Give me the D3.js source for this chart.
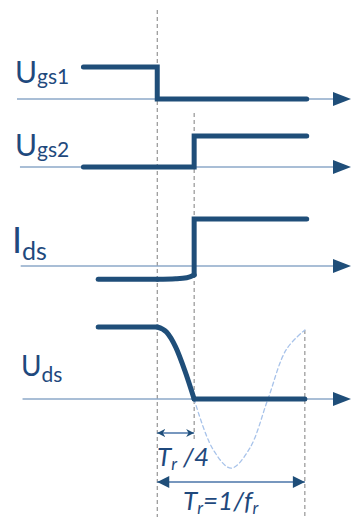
<!DOCTYPE html>
<html><head><meta charset="utf-8">
<script src="https://cdn.jsdelivr.net/npm/d3@7"></script>
<style>html,body{margin:0;padding:0;background:#fff;}svg{display:block;}</style>
</head><body>
<script>
// Time in units where switching starts at 0 and Tr = 4 (Tr/4 = 1)
const switchTimes = [0, 1, 4];           // t1, t1+Tr/4, t1+Tr
const ugs1 = [[-2, 1], [0, 1], [0, 0], [4.05, 0]];
const ugs2 = [[-2, 0], [1, 0], [1, 1], [4.05, 1]];
const idsHold = [[-1.6, -0.28], [0, -0.28]];
const idsRise = [[0, -0.28], [0.5, -0.27], [0.8, -0.25], [1, -0.19]];
const idsStep = [[1, -0.19], [1, 1], [4.05, 1]];
const udsHold = [[-1.6, 1], [0, 1]];
const udsFall = [[0, 1], [0.25, 0.93], [0.5, 0.72], [0.75, 0.39], [1, 0]];
const udsLow = [[1, 0], [4, 0]];
const udsRing = [[1, 0], [1.5, -0.69], [2, -0.96], [2.5, -0.69], [3, 0], [3.5, 0.69], [4, 0.96]];
const panelNames = [["U", "gs1"], ["U", "gs2"], ["I", "ds"], ["U", "ds"]];
const spanLabels = [["T", "r", " /4"], ["T", "r", "=1/f", "r"]];

const W = 351, H = 517;
const dark = "#1f4e79", textCol = "#1f497d", axisCol = "#8da8c9";
const svg = d3.select("body").append("svg").attr("width", W).attr("height", H);
const x = d3.scaleLinear().domain([-3.8, 5.25]).range([17, 351]);

// panels: axis y, high y, axis start, label settings
const panels = [
  {axisY: 99, highY: 67, x0: -3.8, lab: {x: 15, y: 83, big: 30, small: 21, dy: 1}},
  {axisY: 167, highY: 136, x0: -3.72, lab: {x: 15, y: 156, big: 30, small: 21, dy: 1}},
  {axisY: 266, highY: 219, x0: -3.7, lab: {x: 12, y: 253, big: 36, small: 25, dy: 7}},
  {axisY: 399, highY: 327, x0: -3.65, lab: {x: 21, y: 376, big: 28, small: 21, dy: 6}}
];
const ys = panels.map(p => d3.scaleLinear().domain([0, 1]).range([p.axisY, p.highY]));

const defs = svg.append("defs");
defs.append("marker").attr("id", "bigArrow").attr("viewBox", "0 0 10 10")
  .attr("refX", 10).attr("refY", 5).attr("markerWidth", 16).attr("markerHeight", 12)
  .attr("markerUnits", "userSpaceOnUse").attr("orient", "auto-start-reverse")
  .append("path").attr("d", "M0,0L10,5L0,10Z").attr("fill", dark);
defs.append("marker").attr("id", "smallArrow").attr("viewBox", "0 0 10 10")
  .attr("refX", 10).attr("refY", 5).attr("markerWidth", 8).attr("markerHeight", 8)
  .attr("markerUnits", "userSpaceOnUse").attr("orient", "auto-start-reverse")
  .append("path").attr("d", "M0,0L10,5L0,10L3,5Z").attr("fill", dark);

// vertical dashed guides
const guides = [
  {t: switchTimes[0], y1: 10, y2: H},
  {t: switchTimes[1], y1: 113, y2: 440},
  {t: switchTimes[2], y1: 330, y2: H}
];
svg.selectAll("line.guide").data(guides).join("line").attr("class", "guide")
  .attr("x1", d => x(d.t)).attr("x2", d => x(d.t)).attr("y1", d => d.y1).attr("y2", d => d.y2)
  .attr("stroke", "#7f7f7f").attr("stroke-width", 1).attr("stroke-dasharray", "4,3");

// axes
panels.forEach(p => {
  svg.append("line").attr("x1", x(p.x0)).attr("x2", 336).attr("y1", p.axisY).attr("y2", p.axisY)
    .attr("stroke", axisCol).attr("stroke-width", 1.5);
  svg.append("path")
    .attr("d", `M${333},${p.axisY - 7}L${351},${p.axisY}L${333},${p.axisY + 7}Z`)
    .attr("fill", dark);
});

function draw(data, i, curve, opts = {}) {
  const line = d3.line().x(d => x(d[0])).y(d => ys[i](d[1])).curve(curve);
  svg.append("path").datum(data).attr("d", line).attr("fill", "none")
    .attr("stroke", opts.color || dark).attr("stroke-width", opts.w || 5)
    .attr("stroke-linecap", "round").attr("stroke-linejoin", opts.join || "round")
    .attr("stroke-dasharray", opts.dash || null);
}
// ringing (dashed, light)
draw(udsRing, 3, d3.curveCatmullRom, {color: "#a8c3ea", w: 1.3, dash: "4,3"});
draw(ugs1, 0, d3.curveLinear, {join: "miter"});
draw(ugs2, 1, d3.curveLinear, {join: "miter"});
draw(idsHold, 2, d3.curveLinear);
draw(idsRise, 2, d3.curveMonotoneX);
draw(idsStep, 2, d3.curveLinear, {join: "miter"});
draw(udsHold, 3, d3.curveLinear);
draw(udsFall, 3, d3.curveMonotoneX);
draw(udsLow, 3, d3.curveLinear);

// labels
panels.forEach((p, i) => {
  const t = svg.append("text").attr("x", p.lab.x).attr("y", p.lab.y)
    .attr("font-family", "Lato, 'Open Sans', sans-serif").attr("fill", textCol);
  t.append("tspan").attr("font-size", p.lab.big).text(panelNames[i][0]);
  t.append("tspan").attr("font-size", p.lab.small).attr("dy", p.lab.dy).text(panelNames[i][1]);
});

// span arrows
svg.append("line").attr("x1", x(0)).attr("x2", x(1)).attr("y1", 433).attr("y2", 433)
  .attr("stroke", "#4a74a8").attr("stroke-width", 1.5)
  .attr("marker-start", "url(#smallArrow)").attr("marker-end", "url(#smallArrow)");
svg.append("line").attr("x1", x(0)).attr("x2", x(4)).attr("y1", 482).attr("y2", 482)
  .attr("stroke", "#4a74a8").attr("stroke-width", 1.5)
  .attr("marker-start", "url(#bigArrow)").attr("marker-end", "url(#bigArrow)");

function spanText(parts, xx, yy) {
  const t = svg.append("text").attr("x", xx).attr("y", yy)
    .attr("font-family", "Lato, 'Open Sans', sans-serif").attr("font-style", "italic").attr("fill", textCol);
  let sub = false;
  parts.forEach((s, k) => {
    const isSub = (k % 2 === 1);
    const ts = t.append("tspan").attr("font-size", isSub ? 17 : 26).text(s);
    if (isSub && !sub) ts.attr("dy", 4);
    if (!isSub && sub) ts.attr("dy", -4);
    sub = isSub;
  });
}
spanText(spanLabels[0], 157, 466);
spanText(spanLabels[1], 183, 510);
</script>
</body></html>
